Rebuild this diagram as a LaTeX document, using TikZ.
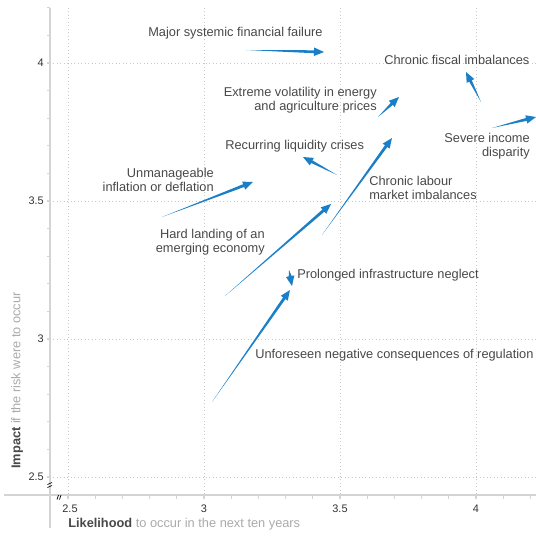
\documentclass[tikz,border=0pt]{standalone}
\usepackage{fontspec}
\setmainfont{Liberation Sans}
\usetikzlibrary{calc}

\definecolor{riskblue}{RGB}{26,127,198}
\definecolor{labelgray}{RGB}{72,72,72}
\definecolor{tickgray}{RGB}{50,50,50}
\definecolor{gridgray}{RGB}{200,200,200}
\definecolor{axisgray}{RGB}{212,212,212}
\definecolor{titlegray}{RGB}{170,170,170}

\tikzset{
  risklabel/.style={inner sep=0.75pt, text=labelgray, font=\fontsize{9.6}{10.5}\selectfont},
  ticklabel/.style={inner sep=0.75pt, text=tickgray, font=\fontsize{8.2}{9}\selectfont},
  axistitle/.style={inner sep=0.75pt, text=titlegray, font=\fontsize{9.6}{11}\selectfont},
  gridline/.style={gridgray, dotted, line width=0.6pt},
  axisline/.style={axisgray, line width=1pt},
}

% tapered arrow from a tail coordinate to a head coordinate
\newcommand{\riskarrow}[2]{%
  \coordinate (#1-b) at ($(#2)!7.5pt!(#1)$);
  \fill[riskblue] (#1) -- ($(#1-b)!1.1pt!90:(#2)$) -- ($(#1-b)!3.2pt!90:(#2)$) -- (#2)
    -- ($(#1-b)!3.2pt!-90:(#2)$) -- ($(#1-b)!1.1pt!-90:(#2)$) -- cycle ;}

\begin{document}
\begin{tikzpicture}[x=0.75pt,y=0.75pt,yscale=-1,xscale=1]
        \useasboundingbox (0,0) rectangle (536,536);

        %Grid Lines
        \draw [gridline] (68,8) -- (68,495) ;
        \draw [gridline] (204,8) -- (204,495) ;
        \draw [gridline] (340,8) -- (340,495) ;
        \draw [gridline] (476,8) -- (476,495) ;
        \draw [gridline] (50,63) -- (536,63) ;
        \draw [gridline] (50,201) -- (536,201) ;
        \draw [gridline] (50,339) -- (536,339) ;
        \draw [gridline] (50,477) -- (536,477) ;

        %Axes
        \draw [axisline] (50,8) -- (50,528) ;
        \draw [axisline] (4,495) -- (536,495) ;
        \foreach \k in {0,...,17} {
          \draw [axisgray, line width=0.8pt] (47,{477-27.6*\k}) -- (50,{477-27.6*\k}) ;
          \draw [axisgray, line width=0.8pt] ({68+27.2*\k},495) -- ({68+27.2*\k},499) ;
        }
        %Axis breaks
        \draw [black, line width=0.5pt] (47.5,484.5) -- (52,482.5) (47.5,487.5) -- (52,485.5) ;
        \draw [black, line width=0.5pt] (57,499.5) -- (58.5,495) (59.5,499.5) -- (61,495) ;

        % Tick Labels
        \node [ticklabel, anchor=east] (y40) at (45,63) {4};
        \node [ticklabel, anchor=east] (y35) at (45,201) {3.5};
        \node [ticklabel, anchor=east] (y30) at (45,339) {3};
        \node [ticklabel, anchor=east] (y25) at (45,477) {2.5};
        \node [ticklabel] (x25) at (70,509) {2.5};
        \node [ticklabel] (x30) at (204,509) {3};
        \node [ticklabel] (x35) at (340,509) {3.5};
        \node [ticklabel] (x40) at (476,509) {4};

        % Axis Titles
        \node [axistitle, anchor=west] (xtitle) at (67,524) {\textcolor{labelgray}{\textbf{Likelihood}} to occur in the next ten years};
        \node [axistitle, anchor=west, rotate=90] (ytitle) at (17,470) {\textcolor{labelgray}{\textbf{Impact}} if the risk were to occur};

        % Text Node
        \node [risklabel, anchor=west] (finfail) at (147,33) {Major systemic financial failure};
        \node [risklabel, anchor=west] (fiscal) at (383,60) {Chronic fiscal imbalances};
        \node [risklabel, anchor=east, align=right] (volatility) at (378,100) {Extreme volatility in energy\\and agriculture prices};
        \node [risklabel, anchor=east, align=right] (disparity) at (531,146) {Severe income\\disparity};
        \node [risklabel, anchor=west] (liquidity) at (224,146) {Recurring liquidity crises};
        \node [risklabel, anchor=east, align=right] (inflation) at (215,180) {Unmanageable\\inflation or deflation};
        \node [risklabel, anchor=west, align=left] (labour) at (368,188) {Chronic labour\\market imbalances};
        \node [risklabel, anchor=east, align=right] (hardland) at (266,242) {Hard landing of an\\emerging economy};
        \node [risklabel, anchor=west] (infra) at (296,275) {Prolonged infrastructure neglect};
        \node [risklabel, anchor=west] (regulation) at (254,355) {Unforeseen negative consequences of regulation};

        % Arrow Ends
        \coordinate (finfail-t) at (246,50) ;   \coordinate (finfail-h) at (324,52) ;
        \coordinate (fiscal-t) at (481,102) ;   \coordinate (fiscal-h) at (466,72) ;
        \coordinate (volatility-t) at (378,117) ;   \coordinate (volatility-h) at (399,97) ;
        \coordinate (disparity-t) at (492,128) ;   \coordinate (disparity-h) at (536,117) ;
        \coordinate (liquidity-t) at (337,175) ;   \coordinate (liquidity-h) at (303,157) ;
        \coordinate (inflation-t) at (162,217) ;   \coordinate (inflation-h) at (253,182) ;
        \coordinate (labour-t) at (322,235) ;   \coordinate (labour-h) at (392,138) ;
        \coordinate (hardland-t) at (225,296) ;   \coordinate (hardland-h) at (331,204) ;
        \coordinate (infra-t) at (289,270) ;   \coordinate (infra-h) at (292,286) ;
        \coordinate (regulation-t) at (212,402) ;   \coordinate (regulation-h) at (290,290) ;

        %Arrows
        \riskarrow{finfail-t}{finfail-h}
        \riskarrow{fiscal-t}{fiscal-h}
        \riskarrow{volatility-t}{volatility-h}
        \riskarrow{disparity-t}{disparity-h}
        \riskarrow{liquidity-t}{liquidity-h}
        \riskarrow{inflation-t}{inflation-h}
        \riskarrow{labour-t}{labour-h}
        \riskarrow{hardland-t}{hardland-h}
        \riskarrow{infra-t}{infra-h}
        \riskarrow{regulation-t}{regulation-h}

\end{tikzpicture}
\end{document}
